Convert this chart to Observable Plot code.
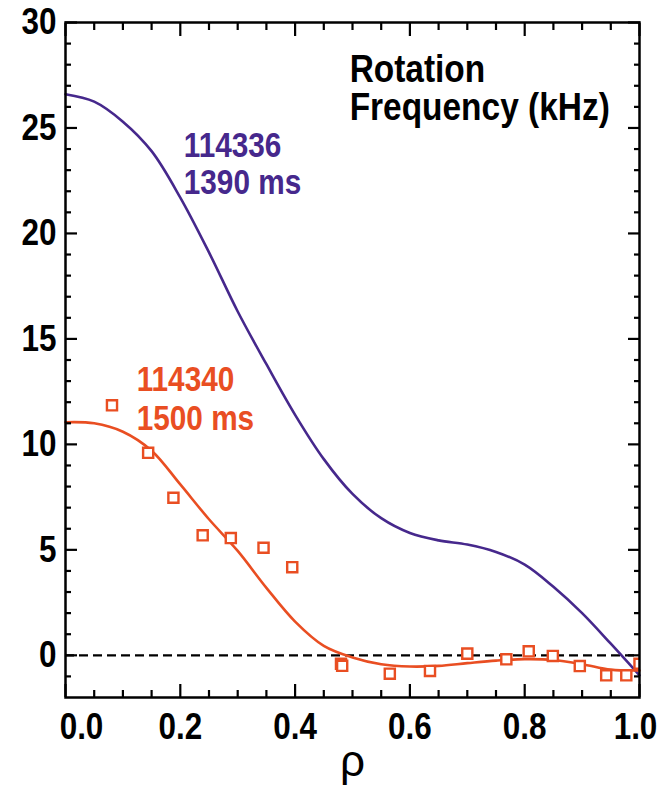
<!DOCTYPE html>
<html><head><meta charset="utf-8">
<script src="https://cdn.jsdelivr.net/npm/d3@7"></script>
<script src="https://cdn.jsdelivr.net/npm/@observablehq/plot@0.6"></script>
<style>
html,body{margin:0;padding:0;background:#fff;}
#chart svg{display:block;}
</style>
</head><body><div id="chart"></div>
<script>
// Fitted profile, shot 114336 at 1390 ms
const rhoFit336  = [0.00,0.05,0.10,0.15,0.20,0.25,0.30,0.35,0.40,0.45,0.50,0.55,0.60,0.65,0.70,0.75,0.80,0.85,0.90,0.95,1.00];
const freqFit336 = [26.6,26.25,25.3,23.9,21.7,19.1,16.3,13.8,11.4,9.3,7.65,6.5,5.8,5.45,5.25,4.9,4.3,3.25,2.0,0.55,-0.95];
// Fitted profile, shot 114340 at 1500 ms
const rhoFit340  = [0.00,0.05,0.10,0.15,0.20,0.25,0.30,0.35,0.40,0.45,0.50,0.55,0.60,0.65,0.70,0.75,0.80,0.85,0.90,0.95,1.00];
const freqFit340 = [11.05,11.0,10.6,9.7,8.1,6.45,4.95,3.2,1.6,0.45,-0.1,-0.42,-0.53,-0.5,-0.37,-0.25,-0.18,-0.22,-0.42,-0.68,-0.72];
// Measured points, shot 114340
const rhoMeas  = [0.081,0.144,0.188,0.239,0.288,0.345,0.395,0.480,0.482,0.565,0.635,0.700,0.768,0.807,0.849,0.896,0.942,0.977,1.000];
const freqMeas = [11.85,9.6,7.47,5.69,5.56,5.1,4.18,-0.4,-0.5,-0.87,-0.74,0.08,-0.19,0.19,-0.03,-0.51,-0.95,-0.95,-0.4];

const xMajorTicks = [0,0.2,0.4,0.6,0.8,1.0];
const xMinorTicks = [0.05,0.1,0.15,0.25,0.3,0.35,0.45,0.5,0.55,0.65,0.7,0.75,0.85,0.9,0.95];
const yMajorTicks = [0,5,10,15,20,25,30];
const yMinorTicks = [-1,1,2,3,4,6,7,8,9,11,12,13,14,16,17,18,19,21,22,23,24,26,27,28,29];

const titleLines = ["Rotation", "Frequency (kHz)"];
const label336 = "114336\n1390 ms";
const label340 = "114340\n1500 ms";
const xLabel = "ρ";

const PURPLE = "#46288c";
const RED = "#e94e22";
const FONT = '"Liberation Sans",Arial,Helvetica,sans-serif';
const SQUEEZE = 0.85;
const TITLE_SQUEEZE = 0.88;

const fit336 = rhoFit336.map((r,i)=>({rho:r, f:freqFit336[i]}));
const fit340 = rhoFit340.map((r,i)=>({rho:r, f:freqFit340[i]}));
const meas = rhoMeas.map((r,i)=>({rho:r, f:freqMeas[i]}));

const fmtX = d3.format(".1f");
const tickOpts = {tickFormat: () => "", label: null, strokeWidth: 2.2};

const chart = Plot.plot({
  width: 665, height: 791,
  marginLeft: 65, marginRight: 26, marginTop: 22, marginBottom: 94,
  x: {domain: [0,1], label: null},
  y: {domain: [-2,30], label: null},
  style: {fontFamily: FONT, fontWeight: "bold", background: "white", color: "black"},
  marks: [
    Plot.ruleY([0], {stroke: "black", strokeWidth: 2.3, strokeDasharray: "9,5"}),
    Plot.line(fit336, {x: "rho", y: "f", stroke: PURPLE, strokeWidth: 2.6, curve: "catmull-rom"}),
    Plot.line(fit340, {x: "rho", y: "f", stroke: RED, strokeWidth: 2.6, curve: "catmull-rom"}),
    Plot.dot(meas, {x: "rho", y: "f", symbol: "square", r: 5.7, stroke: RED, strokeWidth: 2.4, fill: "white", clip: true}),
    // inward ticks on all four sides
    Plot.axisX(xMajorTicks, {anchor: "bottom", tickSize: -13, ...tickOpts}),
    Plot.axisX(xMinorTicks, {anchor: "bottom", tickSize: -7, ...tickOpts}),
    Plot.axisX(xMajorTicks, {anchor: "top", tickSize: -13, ...tickOpts}),
    Plot.axisX(xMinorTicks, {anchor: "top", tickSize: -7, ...tickOpts}),
    Plot.axisY(yMajorTicks, {anchor: "left", tickSize: -12, ...tickOpts}),
    Plot.axisY(yMinorTicks, {anchor: "left", tickSize: -6, ...tickOpts}),
    Plot.axisY(yMajorTicks, {anchor: "right", tickSize: -12, ...tickOpts}),
    Plot.axisY(yMinorTicks, {anchor: "right", tickSize: -6, ...tickOpts}),
    // tick labels (the end labels sit slightly inside, as in the original)
    Plot.axisX(xMajorTicks.slice(0,1), {anchor: "bottom", tickSize: 0, tickPadding: 15, tickFormat: fmtX, fontSize: 37, label: null, dx: 16}),
    Plot.axisX(xMajorTicks.slice(1,5), {anchor: "bottom", tickSize: 0, tickPadding: 15, tickFormat: fmtX, fontSize: 37, label: null}),
    Plot.axisX(xMajorTicks.slice(5), {anchor: "bottom", tickSize: 0, tickPadding: 15, tickFormat: fmtX, fontSize: 37, label: null, dx: -4}),
    Plot.axisY(yMajorTicks, {anchor: "left", tickSize: 0, tickPadding: 9, tickFormat: d3.format("d"), fontSize: 37, label: null}),
    Plot.frame({stroke: "black", strokeWidth: 2.5}),
    // annotations
    Plot.text([titleLines[0]], {x: 0.495, y: 28.45, text: d => d, textAnchor: "start", lineAnchor: "top", fontSize: 38, fill: "black", className: "title"}),
    Plot.text([titleLines[1]], {x: 0.495, y: 26.65, text: d => d, textAnchor: "start", lineAnchor: "top", fontSize: 38, fill: "black", className: "title"}),
    Plot.text([label336], {x: 0.206, y: 24.9, text: d => d, textAnchor: "start", lineAnchor: "top", fontSize: 35, lineHeight: 1.07, fill: PURPLE}),
    Plot.text([label340], {x: 0.124, y: 13.85, text: d => d, textAnchor: "start", lineAnchor: "top", fontSize: 35, lineHeight: 1.12, fill: RED}),
    Plot.text([xLabel], {frameAnchor: "bottom", text: d => d, dy: 78, fontSize: 44, fontWeight: "normal", fontFamily: '"Liberation Sans","DejaVu Sans",sans-serif', fill: "black"})
  ]
});
document.getElementById("chart").appendChild(chart);

// emulate the condensed bold face of the original by narrowing glyphs
chart.querySelectorAll("text").forEach(t => {
  if (t.textContent === xLabel) return;
  const k = titleLines.includes(t.textContent) ? TITLE_SQUEEZE : SQUEEZE;
  const spans = t.querySelectorAll("tspan");
  const targets = spans.length ? Array.from(spans) : [t];
  targets.forEach(el => {
    const w = el.getComputedTextLength();
    if (w > 0) {
      el.setAttribute("textLength", (w * k).toFixed(2));
      el.setAttribute("lengthAdjust", "spacingAndGlyphs");
    }
  });
});
</script>
</body></html>
